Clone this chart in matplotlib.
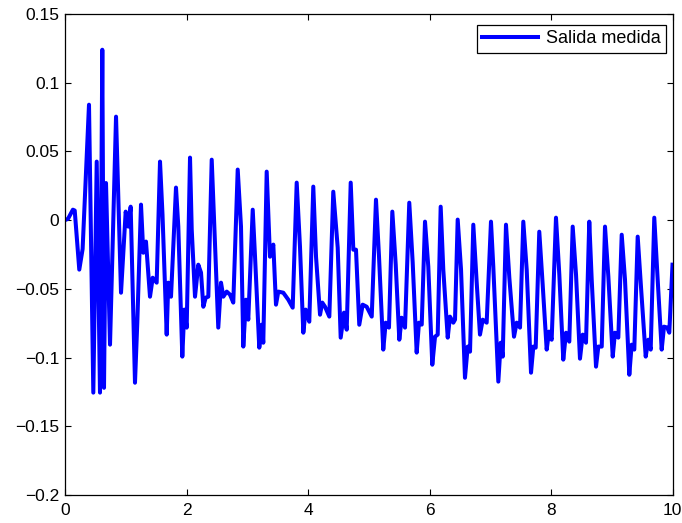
import matplotlib
matplotlib.use("Agg")
import matplotlib.pyplot as plt
import numpy as np

t = [0.0, 0.05, 0.13, 0.16, 0.235, 0.29, 0.395, 0.466, 0.522, 0.576,
     0.614, 0.642, 0.675, 0.741, 0.84, 0.922, 0.999, 1.042, 1.081, 1.152,
     1.19, 1.251, 1.289, 1.333, 1.399, 1.444, 1.509, 1.564, 1.605, 1.674,
     1.70, 1.745, 1.827, 1.865, 1.931, 1.964, 2.003, 2.058, 2.086, 2.14,
     2.194, 2.239, 2.277, 2.316, 2.359, 2.415, 2.458, 2.523, 2.568, 2.606,
     2.662, 2.716, 2.77, 2.843, 2.897, 2.935, 2.979, 3.017, 3.09, 3.128,
     3.198, 3.238, 3.264, 3.32, 3.374, 3.429, 3.473, 3.511, 3.593, 3.676,
     3.748, 3.814, 3.868, 3.923, 3.962, 4.021, 4.087, 4.132, 4.198, 4.235,
     4.28, 4.351, 4.416, 4.489, 4.538, 4.593, 4.637, 4.703, 4.746, 4.79,
     4.844, 4.9, 4.966, 5.049, 5.119, 5.169, 5.239, 5.279, 5.333, 5.388,
     5.444, 5.503, 5.542, 5.597, 5.667, 5.723, 5.789, 5.827, 5.872, 5.926,
     5.98, 6.046, 6.091, 6.135, 6.184, 6.227, 6.3, 6.337, 6.392, 6.42,
     6.464, 6.519, 6.584, 6.629, 6.667, 6.721, 6.777, 6.831, 6.876, 6.941,
     7.012, 7.05, 7.133, 7.172, 7.205, 7.259, 7.314, 7.391, 7.435, 7.49,
     7.544, 7.6, 7.671, 7.709, 7.748, 7.807, 7.863, 7.929, 7.967, 8.011,
     8.082, 8.137, 8.202, 8.247, 8.301, 8.357, 8.412, 8.477, 8.522, 8.576,
     8.63, 8.67, 8.741, 8.779, 8.835, 8.889, 8.944, 9.016, 9.053, 9.108,
     9.164, 9.218, 9.289, 9.328, 9.371, 9.427, 9.481, 9.559, 9.602, 9.641,
     9.70, 9.756, 9.822, 9.86, 9.914, 9.947, 10.0]

salida = [0.0, 0.001, 0.0076, 0.007, -0.036, -0.021, 0.084, -0.1255, 0.0426, -0.1255,
          0.124, -0.122, 0.027, -0.0906, 0.0753, -0.0528, 0.0062, -0.0047, 0.0098, -0.1183,
          -0.0746, 0.0113, -0.0237, -0.0156, -0.0557, -0.0419, -0.0455, 0.0426, 0.004, -0.0833,
          -0.0455, -0.0557, 0.0237, -0.0047, -0.0993, -0.0651, -0.0782, 0.0455, -0.0069, -0.0557,
          -0.0324, -0.0382, -0.063, -0.0564, -0.0557, 0.044, -0.0047, -0.0782, -0.0455, -0.0557,
          -0.052, -0.0542, -0.06, 0.0368, -0.0047, -0.092, -0.0579, -0.0724, 0.0076, -0.0266,
          -0.0928, -0.0761, -0.0892, 0.0353, -0.0266, -0.0178, -0.0615, -0.052, -0.0528, -0.0579,
          -0.0637, 0.0273, -0.0193, -0.0819, -0.0651, -0.0739, 0.0244, -0.0266, -0.0688, -0.06,
          -0.063, -0.0702, 0.0207, -0.02, -0.0855, -0.0673, -0.0797, 0.0273, -0.0215, -0.0215,
          -0.0761, -0.0615, -0.063, -0.0702, 0.0149, -0.0266, -0.0942, -0.0746, -0.0782, 0.0062,
          -0.0324, -0.087, -0.071, -0.0782, 0.0127, -0.0306, -0.0964, -0.0746, -0.076, -0.0011,
          -0.0338, -0.1052, -0.0848, -0.0833, 0.0098, -0.036, -0.0855, -0.0702, -0.0746, -0.0724,
          0.0004, -0.036, -0.1147, -0.092, -0.0957, -0.0033, -0.0455, -0.0833, -0.0724, -0.0746,
          -0.0011, -0.0338, -0.1175, -0.0892, -0.0993, -0.0033, -0.0419, -0.0848, -0.0746, -0.0782,
          -0.0011, -0.036, -0.111, -0.092, -0.0928, -0.0084, -0.0469, -0.0942, -0.0811, -0.087,
          0.0018, -0.0397, -0.1015, -0.0819, -0.0884, -0.0047, -0.0397, -0.1008, -0.0833, -0.0892,
          -0.0011, -0.0433, -0.1066, -0.092, -0.092, -0.0047, -0.0411, -0.0993, -0.0819, -0.0855,
          -0.0106, -0.0433, -0.1125, -0.0906, -0.0942, -0.012, -0.0484, -0.0993, -0.087, -0.0942,
          0.0018, -0.0433, -0.0942, -0.0775, -0.0782, -0.0819, -0.0324]

xticks = [0, 2, 4, 6, 8, 10]
yticks = [-0.2, -0.15, -0.1, -0.05, 0, 0.05, 0.1, 0.15]

plt.rcParams["font.family"] = ["Liberation Sans", "DejaVu Sans"]

fig = plt.figure(figsize=(6.82, 5.23), dpi=100)
ax = fig.add_axes([65/682, 28/523, 607.5/682, 481/523])

ax.plot(t, salida, color="#0000ff", lw=2.9, solid_joinstyle="round",
        label="Salida medida")

ax.set_xlim(0, 10)
ax.set_ylim(-0.2, 0.15)
ax.set_xticks(xticks)
ax.set_xticklabels([f"{v:g}" for v in xticks])
ax.set_yticks(yticks)
ax.set_yticklabels([f"{v:g}".replace("-", "\u2212") for v in yticks])
ax.tick_params(direction="in", length=4, width=0.8, top=True, right=True,
               labelsize=12.5)
ax.tick_params(axis="x", pad=6)
ax.tick_params(axis="y", pad=4)
for s in ax.spines.values():
    s.set_linewidth(0.9)

leg = ax.legend(loc="upper right", bbox_to_anchor=(0.989, 0.977), borderaxespad=0,
                fancybox=False, edgecolor="black", framealpha=1, fontsize=13,
                handlelength=3.1, handletextpad=0.4, borderpad=0.3)
leg.get_frame().set_linewidth(0.9)

fig.savefig("out.png", dpi=100)
